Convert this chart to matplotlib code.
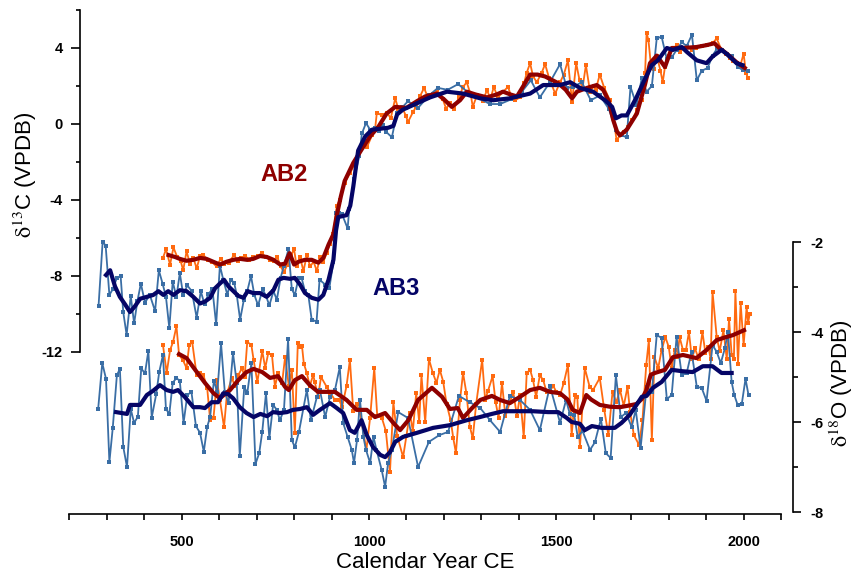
import matplotlib
matplotlib.use("Agg")
import matplotlib.pyplot as plt
from matplotlib.ticker import FixedLocator

plt.rcParams['font.family'] = ['Liberation Sans', 'DejaVu Sans']
plt.rcParams['mathtext.fontset'] = 'stix'
plt.rcParams['axes.unicode_minus'] = False

# ==========================================
# Data: delta 13C (left axis)
# ==========================================

ab2_c13_year = [450, 458, 469, 478, 488, 497, 504, 513, 522, 531, 540, 549, 558, 569, 580,
                593, 604, 613, 625, 640, 649, 657, 669, 681, 691, 703, 714, 724, 736, 746,
                755, 764, 773, 782, 792, 800, 807, 816, 825, 834, 843, 852, 861, 869, 878,
                887, 896, 905, 914, 922, 935, 949, 962, 974, 984, 995, 1008, 1016, 1021, 1034,
                1048, 1058, 1070, 1078, 1088, 1099, 1104, 1118, 1126, 1136, 1147, 1158, 1171, 1182, 1197,
                1206, 1216, 1227, 1240, 1251, 1261, 1272, 1277, 1288, 1304, 1315, 1324, 1333, 1344, 1358,
                1371, 1379, 1390, 1403, 1414, 1421, 1430, 1438, 1448, 1461, 1470, 1481, 1497, 1510, 1520,
                1531, 1542, 1553, 1562, 1570, 1579, 1590, 1600, 1605, 1616, 1628, 1643, 1652, 1661, 1670,
                1680, 1691, 1703, 1715, 1728, 1737, 1741, 1746, 1752, 1760, 1768, 1778, 1784, 1790, 1800,
                1810, 1821, 1830, 1840, 1850, 1862, 1874, 1888, 1901, 1917, 1928, 1941, 1952, 1963, 1972,
                1981, 1990, 2000, 2006, 2012]
ab2_c13 = [-7.05, -6.6, -7.4, -6.5, -7.0, -7.2, -7.7, -6.7, -7.35, -7.05, -7.6, -6.95, -6.9, -7.15, -7.25,
           -7.5, -7.1, -7.35, -7.3, -6.9, -7.2, -7.05, -6.95, -7.15, -7.0, -6.95, -6.8, -7.0, -7.15, -7.2,
           -7.0, -7.5, -7.8, -7.4, -6.9, -6.6, -7.5, -7.0, -7.75, -6.9, -7.5, -7.25, -7.75, -7.0, -7.25,
           -6.8, -6.3, -5.8, -4.3, -4.0, -3.1, -2.6, -2.1, -1.5, -1.0, -1.2, -0.6, -0.3, 0.6, 0.45,
           0.6, 0.3, 1.35, 0.8, 0.9, 0.4, 0.1, 0.65, 0.9, 1.45, 1.9, 1.35, 1.6, 1.75, 1.3,
           0.8, 1.1, 0.8, 1.4, 1.95, 2.2, 1.5, 0.9, 1.5, 1.2, 1.8, 1.3, 1.95, 1.4, 1.7,
           1.95, 1.5, 1.25, 1.4, 2.15, 2.7, 3.2, 2.5, 2.2, 2.7, 3.15, 2.4, 1.6, 2.2, 2.6,
           3.35, 1.15, 3.2, 2.3, 1.9, 3.1, 1.7, 2.0, 1.8, 2.6, 1.9, 1.25, 0.35, -0.85, -0.6,
           -0.4, -0.15, 0.2, 0.75, 1.25, 2.7, 4.8, 4.4, 3.2, 2.9, 3.6, 2.8, 2.2, 3.0, 3.6,
           3.9, 4.15, 3.8, 4.0, 4.1, 3.9, 4.0, 4.1, 4.15, 4.25, 4.5, 3.9, 3.7, 3.45, 3.3,
           3.2, 3.0, 3.7, 2.7, 2.4]

ab2_c13_smooth_year = [465, 482, 495, 513, 531, 549, 566, 584, 602, 620, 638, 656, 674, 691, 709,
                       727, 745, 763, 776, 788, 800, 812, 829, 847, 865, 878, 892, 905, 913, 925,
                       935, 958, 980, 1003, 1025, 1047, 1070, 1100, 1128, 1150, 1181, 1200, 1221, 1243, 1261,
                       1285, 1315, 1340, 1358, 1378, 1395, 1412, 1430, 1450, 1470, 1490, 1505, 1525, 1542, 1555,
                       1582, 1608, 1625, 1640, 1652, 1662, 1670, 1688, 1715, 1737, 1750, 1768, 1790, 1808, 1837,
                       1874, 1901, 1922, 1935, 1955, 1981, 2003]
ab2_c13_smooth = [-6.9, -7.0, -7.1, -7.2, -7.15, -7.05, -7.1, -7.25, -7.4, -7.25, -7.15, -7.1, -7.15, -7.1, -6.95,
                  -7.0, -7.15, -7.4, -7.35, -6.8, -7.4, -7.25, -7.15, -7.15, -7.3, -7.05, -6.35, -5.8, -4.9, -3.8,
                  -3.0, -2.05, -1.35, -0.65, -0.15, 0.55, 0.9, 0.85, 1.2, 1.45, 1.6, 1.3, 0.9, 1.25, 1.7,
                  1.55, 1.4, 1.55, 1.7, 1.55, 1.45, 2.0, 2.6, 2.6, 2.5, 2.3, 2.15, 1.8, 1.35, 1.7,
                  1.9, 2.05, 1.8, 1.2, 0.2, -0.4, -0.6, -0.3, 0.55, 2.1, 3.2, 3.6, 3.0, 4.0, 4.0,
                  4.05, 4.15, 4.25, 4.0, 3.7, 3.25, 2.95]

ab3_c13_year = [278, 289, 297, 307, 316, 327, 337, 344, 353, 364, 373, 382, 391, 402, 415,
                429, 439, 449, 458, 467, 476, 486, 495, 504, 515, 527, 540, 551, 561, 571,
                582, 592, 602, 611, 622, 631, 640, 647, 656, 666, 675, 685, 694, 704, 716,
                725, 734, 745, 754, 764, 773, 785, 794, 802, 812, 820, 829, 838, 847, 860,
                868, 883, 894, 905, 913, 920, 928, 943, 947, 960, 974, 981, 992, 1003, 1015,
                1028, 1038, 1045, 1061, 1075, 1090, 1104, 1131, 1160, 1184, 1210, 1238, 1262, 1288, 1323,
                1350, 1380, 1408, 1432, 1456, 1483, 1510, 1528, 1545, 1568, 1592, 1616, 1640, 1659, 1674,
                1688, 1698, 1714, 1728, 1741, 1755, 1768, 1781, 1795, 1808, 1821, 1835, 1848, 1862, 1875,
                1888, 1904, 1917, 1930, 1942, 1955, 1968, 1984, 1997, 2011]
ab3_c13 = [-9.6, -6.2, -6.4, -9.0, -8.7, -8.1, -8.0, -9.9, -11.1, -9.05, -10.5, -9.3, -8.4, -9.4, -9.0,
           -9.85, -7.7, -8.4, -9.1, -10.75, -8.3, -9.1, -7.85, -9.0, -8.5, -8.8, -10.2, -8.8, -9.5, -8.95,
           -8.7, -10.55, -7.45, -8.2, -9.0, -8.2, -8.35, -9.0, -10.3, -9.25, -8.8, -8.0, -9.0, -9.55, -8.7,
           -9.05, -9.55, -8.8, -9.25, -8.1, -7.45, -6.6, -8.7, -9.0, -8.1, -8.1, -8.8, -9.0, -10.3, -10.4,
           -8.2, -8.45, -8.65, -7.25, -4.7, -4.7, -4.75, -5.5, -4.5, -2.9, -1.7, -0.5, 0.05, -0.3, -0.2,
           -0.35, -0.05, -0.4, -0.7, 0.6, 0.9, 1.2, 0.85, 1.5, 1.9, 1.8, 2.1, 1.7, 1.4, 1.05,
           1.05, 1.3, 1.7, 2.3, 1.4, 2.2, 3.15, 1.9, 1.95, 2.2, 1.25, 1.5, 0.8, -0.3, -0.6,
           -0.7, 1.95, 1.0, 2.4, 1.7, 2.0, 4.5, 4.6, 3.4, 3.5, 3.9, 4.3, 4.1, 4.7, 2.3,
           2.8, 2.95, 3.6, 4.0, 3.9, 3.7, 3.6, 3.0, 2.85, 2.8]

ab3_c13_smooth_year = [298, 309, 322, 335, 349, 362, 375, 389, 407, 424, 438, 451, 464, 478, 495,
                       513, 531, 549, 562, 576, 589, 602, 613, 625, 638, 651, 665, 676, 691, 709,
                       727, 745, 758, 772, 789, 802, 816, 829, 847, 865, 878, 892, 905, 912, 918,
                       940, 950, 958, 971, 990, 1008, 1030, 1051, 1065, 1075, 1090, 1118, 1163, 1208, 1251,
                       1297, 1331, 1376, 1430, 1465, 1510, 1537, 1563, 1598, 1630, 1649, 1659, 1674, 1688, 1714,
                       1735, 1755, 1771, 1795, 1811, 1835, 1848, 1875, 1901, 1917, 1941, 1957, 1981, 1997]
ab3_c13_smooth = [-7.95, -7.7, -8.55, -9.1, -9.5, -9.9, -9.6, -9.2, -9.1, -9.0, -8.8, -9.0, -8.8, -9.0, -8.75,
                  -8.8, -9.1, -9.45, -9.35, -9.15, -8.65, -8.4, -8.2, -8.55, -8.8, -9.05, -9.15, -8.8, -8.9, -8.9,
                  -9.1, -8.75, -8.2, -8.1, -8.15, -8.1, -8.45, -8.9, -9.15, -9.25, -9.0, -8.2, -7.15, -5.6, -4.9,
                  -4.8, -4.3, -3.3, -1.4, -0.65, -0.3, -0.25, -0.2, -0.1, 0.5, 0.75, 1.0, 1.4, 1.7, 1.6,
                  1.35, 1.25, 1.35, 1.6, 2.05, 2.05, 2.2, 1.9, 1.7, 1.25, 0.9, 0.3, 0.45, 0.45, 1.4,
                  2.3, 3.1, 3.35, 4.0, 3.9, 4.05, 3.8, 3.35, 3.2, 3.55, 3.9, 3.65, 3.2, 3.1]

# ==========================================
# Data: delta 18O (right axis)
# ==========================================

ab2_o18_year = [450, 460, 469, 477, 486, 493, 503, 513, 520, 528, 540, 549, 558, 568, 576,
                585, 594, 602, 613, 621, 634, 642, 651, 661, 668, 675, 686, 692, 702, 715,
                723, 731, 741, 749, 757, 768, 776, 786, 794, 802, 810, 816, 821, 826, 834,
                842, 851, 855, 864, 872, 887, 896, 909, 920, 928, 940, 949, 958, 967, 976,
                993, 1003, 1014, 1022, 1034, 1045, 1056, 1065, 1075, 1091, 1100, 1109, 1117, 1126, 1134,
                1140, 1150, 1160, 1170, 1180, 1189, 1198, 1207, 1218, 1225, 1232, 1243, 1251, 1260, 1269,
                1277, 1286, 1302, 1310, 1318, 1330, 1338, 1346, 1355, 1364, 1376, 1385, 1395, 1403, 1413,
                1421, 1430, 1438, 1446, 1456, 1465, 1474, 1483, 1492, 1500, 1510, 1520, 1531, 1541, 1550,
                1556, 1563, 1576, 1589, 1598, 1616, 1628, 1639, 1650, 1660, 1670, 1680, 1690, 1697, 1707,
                1721, 1730, 1740, 1747, 1755, 1762, 1772, 1781, 1791, 1800, 1808, 1816, 1823, 1829, 1838,
                1846, 1854, 1862, 1870, 1880, 1890, 1898, 1906, 1912, 1917, 1928, 1936, 1946, 1955, 1961,
                1968, 1974, 1978, 1985, 1992, 2000, 2008, 2012, 2016]
ab2_o18 = [-4.29, -4.91, -4.4, -4.22, -3.87, -4.51, -4.62, -4.8, -4.29, -4.22, -4.96, -4.91, -4.96, -5.24, -5.96,
           -5.9, -5.07, -5.51, -6.11, -5.36, -5.02, -5.2, -4.96, -4.8, -5.0, -4.22, -4.29, -4.62, -5.11, -4.42,
           -4.8, -4.47, -4.51, -5.22, -4.91, -5.13, -4.56, -5.2, -4.84, -6.24, -4.24, -4.33, -4.3, -4.7, -4.91,
           -5.2, -4.95, -5.1, -5.44, -5.0, -5.22, -5.35, -5.51, -5.5, -5.67, -5.2, -4.62, -5.76, -5.6, -5.8,
           -6.62, -5.9, -4.8, -5.87, -5.9, -6.2, -7.11, -5.56, -6.3, -6.78, -6.3, -5.8, -6.2, -5.36, -6.0,
           -4.96, -6.0, -4.6, -4.9, -5.13, -4.84, -5.1, -5.6, -5.96, -6.36, -6.69, -5.51, -4.91, -5.36, -6.1,
           -6.36, -5.6, -4.62, -5.51, -5.3, -4.98, -5.56, -5.91, -5.13, -5.87, -5.56, -5.33, -5.87, -5.4, -6.33,
           -4.91, -4.84, -5.07, -5.44, -4.96, -5.07, -5.33, -5.3, -5.2, -5.33, -5.4, -5.13, -4.73, -6.29, -5.4,
           -5.45, -6.56, -4.8, -5.22, -5.29, -5.02, -5.73, -6.29, -5.33, -5.56, -5.29, -5.64, -5.22, -5.78, -6.29,
           -6.51, -5.96, -4.73, -4.18, -6.4, -4.56, -4.8, -4.4, -4.11, -4.33, -4.8, -4.4, -4.56, -4.11, -4.4,
           -4.4, -4.0, -4.6, -4.36, -4.6, -4.0, -4.47, -4.33, -4.6, -3.11, -4.1, -4.43, -3.96, -4.6, -3.71,
           -4.5, -4.6, -3.09, -4.7, -3.36, -4.29, -3.44, -3.8, -3.6]

ab2_o18_smooth_year = [493, 513, 536, 562, 585, 602, 629, 651, 673, 692, 715, 736, 757, 776, 786,
                       802, 821, 842, 864, 887, 909, 940, 967, 994, 1016, 1043, 1065, 1083, 1105, 1131,
                       1168, 1195, 1216, 1237, 1251, 1275, 1297, 1328, 1350, 1376, 1403, 1430, 1456, 1483, 1510,
                       1530, 1544, 1563, 1580, 1593, 1616, 1643, 1670, 1690, 1714, 1728, 1740, 1752, 1763, 1790,
                       1811, 1838, 1874, 1901, 1928, 1950, 1971, 2001]
ab2_o18_smooth = [-4.49, -4.58, -4.84, -5.13, -5.36, -5.47, -5.29, -5.07, -4.89, -4.82, -4.89, -5.02, -4.98, -5.22, -5.29,
                  -5.07, -4.98, -5.18, -5.33, -5.33, -5.33, -5.51, -5.73, -5.73, -5.89, -5.8, -6.02, -6.18, -5.96, -5.51,
                  -5.24, -5.44, -5.71, -5.69, -5.91, -5.69, -5.51, -5.42, -5.51, -5.58, -5.44, -5.29, -5.24, -5.33, -5.36,
                  -5.5, -5.73, -5.8, -5.4, -5.5, -5.62, -5.66, -5.67, -5.64, -5.6, -5.49, -5.3, -4.95, -4.91, -4.84,
                  -4.56, -4.51, -4.58, -4.4, -4.18, -4.12, -4.07, -3.96]

ab3_o18_year = [277, 288, 298, 307, 316, 327, 335, 344, 354, 364, 373, 383, 392, 402, 411,
                420, 432, 440, 450, 458, 467, 476, 486, 495, 505, 515, 526, 538, 549, 559,
                568, 576, 586, 595, 605, 615, 625, 637, 647, 655, 667, 675, 686, 697, 707,
                715, 725, 734, 744, 754, 762, 773, 784, 794, 802, 813, 834, 845, 861, 869,
                883, 896, 909, 922, 931, 943, 954, 960, 968, 976, 985, 992, 1003, 1012, 1020,
                1034, 1043, 1051, 1061, 1078, 1104, 1131, 1160, 1188, 1211, 1240, 1269, 1297, 1323, 1350,
                1376, 1403, 1430, 1456, 1483, 1510, 1526, 1536, 1548, 1557, 1570, 1590, 1603, 1619, 1632,
                1645, 1659, 1672, 1686, 1701, 1712, 1725, 1741, 1755, 1768, 1781, 1795, 1808, 1821, 1835,
                1848, 1861, 1875, 1888, 1901, 1917, 1928, 1939, 1950, 1958, 1968, 1975, 1984, 1995, 2005,
                2013]
ab3_o18 = [-5.71, -4.69, -5.04, -6.89, -6.13, -4.96, -4.82, -6.55, -7.0, -5.71, -6.02, -5.88, -4.81, -4.92, -4.42,
           -5.9, -5.38, -4.89, -4.51, -5.71, -5.82, -5.13, -5.02, -5.09, -6.02, -5.4, -5.33, -6.09, -6.24, -6.66,
           -6.11, -5.88, -5.08, -5.33, -4.25, -5.33, -5.58, -4.47, -5.13, -6.76, -5.22, -5.36, -4.69, -6.93, -6.69,
           -6.22, -5.36, -6.36, -5.62, -5.73, -5.96, -5.73, -4.16, -6.4, -6.56, -6.22, -5.29, -5.96, -5.44, -5.29,
           -5.89, -5.44, -5.29, -4.78, -6.02, -6.33, -6.62, -6.91, -6.4, -5.51, -6.33, -6.62, -6.91, -6.33, -6.62,
           -7.07, -7.44, -6.91, -6.62, -5.78, -5.91, -7.0, -6.44, -6.29, -6.22, -5.42, -5.56, -5.69, -5.96, -6.22,
           -5.42, -5.51, -5.73, -6.18, -5.2, -6.02, -5.51, -5.82, -5.85, -6.33, -6.2, -6.62, -6.45, -5.93, -6.69,
           -6.8, -4.96, -5.89, -5.8, -6.11, -5.73, -6.58, -5.22, -5.33, -4.07, -4.13, -5.49, -5.4, -4.11, -4.96,
           -4.91, -4.44, -5.22, -5.24, -5.53, -4.29, -4.44, -4.69, -4.36, -4.0, -5.11, -5.4, -5.62, -5.6, -5.04,
           -5.4]

ab3_o18_smooth_year = [325, 354, 362, 389, 407, 423, 442, 460, 477, 490, 508, 531, 549, 562, 580,
                       597, 611, 624, 637, 655, 673, 692, 710, 728, 744, 762, 781, 797, 816, 834,
                       851, 869, 896, 914, 931, 949, 962, 980, 994, 1011, 1030, 1043, 1056, 1070, 1091,
                       1128, 1171, 1216, 1261, 1296, 1328, 1358, 1394, 1437, 1478, 1505, 1528, 1541, 1563, 1576,
                       1595, 1621, 1656, 1674, 1696, 1714, 1728, 1741, 1758, 1781, 1808, 1835, 1864, 1891, 1917,
                       1941, 1968]
ab3_o18_smooth = [-5.78, -5.82, -5.62, -5.62, -5.4, -5.31, -5.18, -5.29, -5.33, -5.29, -5.44, -5.67, -5.67, -5.69, -5.56,
                  -5.56, -5.36, -5.38, -5.47, -5.67, -5.8, -5.89, -5.82, -5.87, -5.78, -5.8, -5.78, -5.73, -5.71, -5.67,
                  -5.84, -5.73, -5.58, -5.69, -5.8, -6.18, -6.24, -5.96, -6.29, -6.56, -6.73, -6.78, -6.67, -6.44, -6.33,
                  -6.24, -6.13, -6.07, -5.96, -5.89, -5.82, -5.76, -5.76, -5.76, -5.78, -5.78, -5.91, -6.0, -6.04, -6.18,
                  -6.09, -6.13, -6.13, -6.02, -5.84, -5.62, -5.44, -5.42, -5.24, -5.11, -4.84, -4.87, -4.89, -4.76, -4.76,
                  -4.91, -4.91]

# ==========================================
# Styles
# ==========================================

ORANGE = "#FF6A10"
STEEL = "#3A6EA5"
DARK_RED = "#8E0000"
NAVY = "#050566"

fig = plt.figure(figsize=(8.56, 5.77), dpi=100)
ax = fig.add_axes([69.3 / 856, 63 / 577, 711.8 / 856, 504 / 577])
ax2 = ax.twinx()

raw_kw = dict(lw=1.3, marker='s', markersize=3.4, markeredgewidth=0)

# delta 13C
ax.plot(ab2_c13_year, ab2_c13, color=ORANGE, **raw_kw)
ax.plot(ab3_c13_year, ab3_c13, color=STEEL, **raw_kw)
ax.plot(ab2_c13_smooth_year, ab2_c13_smooth, color=DARK_RED, lw=3.0)
ax.plot(ab3_c13_smooth_year, ab3_c13_smooth, color=NAVY, lw=3.0)

# delta 18O
ax2.plot(ab2_o18_year, ab2_o18, color=ORANGE, **raw_kw)
ax2.plot(ab3_o18_year, ab3_o18, color=STEEL, **raw_kw)
ax2.plot(ab2_o18_smooth_year, ab2_o18_smooth, color=DARK_RED, lw=3.0)
ax2.plot(ab3_o18_smooth_year, ab3_o18_smooth, color=NAVY, lw=3.0)

ax.text(773, -2.68, "AB2", color=DARK_RED, fontsize=17, fontweight='bold',
        ha='center', va='center')
ax.text(1072, -8.68, "AB3", color=NAVY, fontsize=17, fontweight='bold',
        ha='center', va='center')

# ==========================================
# Axes
# ==========================================

ax.set_xlim(200, 2100)
ax.set_ylim(-20.53, 6.0)
ax2.set_ylim(-8.044, 3.156)

for side in ['top', 'right']:
    ax.spines[side].set_visible(False)
for side in ['top', 'left', 'bottom']:
    ax2.spines[side].set_visible(False)

ax.spines['left'].set_position(('axes', 0.015))
ax.spines['left'].set_bounds(-12, 6)
ax2.spines['right'].set_position(('axes', 1.0171))
ax2.spines['right'].set_bounds(-8, -2)
for sp in [ax.spines['left'], ax.spines['bottom'], ax2.spines['right']]:
    sp.set_linewidth(1.2)

ax.xaxis.set_major_locator(FixedLocator([500, 1000, 1500, 2000]))
ax.xaxis.set_minor_locator(FixedLocator([200, 300, 400, 600, 700, 800, 900, 1100, 1200,
                                         1300, 1400, 1600, 1700, 1800, 1900, 2100]))
ax.yaxis.set_major_locator(FixedLocator([-12, -8, -4, 0, 4]))
ax.yaxis.set_minor_locator(FixedLocator([-10, -6, -2, 2, 6]))
ax2.yaxis.set_major_locator(FixedLocator([-8, -6, -4, -2]))
ax2.yaxis.set_minor_locator(FixedLocator([-7, -5, -3]))

ax.tick_params(axis='x', which='both', direction='out', length=4.3, width=1.2, pad=11,
               labelsize=10.5)
ax.tick_params(axis='y', which='major', direction='out', length=6.5, width=1.2, pad=6,
               labelsize=10.5)
ax.tick_params(axis='y', which='minor', direction='out', length=3.2, width=1.2)
ax2.tick_params(axis='y', which='major', direction='out', length=6.0, width=1.2, pad=6,
                labelsize=10.5)
ax2.tick_params(axis='y', which='minor', direction='out', length=3.5, width=1.2)

for lbl in ax.get_xticklabels() + ax.get_yticklabels() + ax2.get_yticklabels():
    lbl.set_fontweight('bold')

fig.text(25 / 856, 1 - 175 / 577, r'$\mathrm{\delta^{13}}$C (VPDB)', rotation=90,
         ha='center', va='center', fontsize=16)
fig.text(841 / 856, 1 - 383 / 577, r'$\mathrm{\delta^{18}}$O (VPDB)', rotation=90,
         ha='center', va='center', fontsize=16)
fig.text(425 / 856, 1 - 562 / 577, 'Calendar Year CE', ha='center', va='center',
         fontsize=16)

fig.savefig("out.png", dpi=100)
